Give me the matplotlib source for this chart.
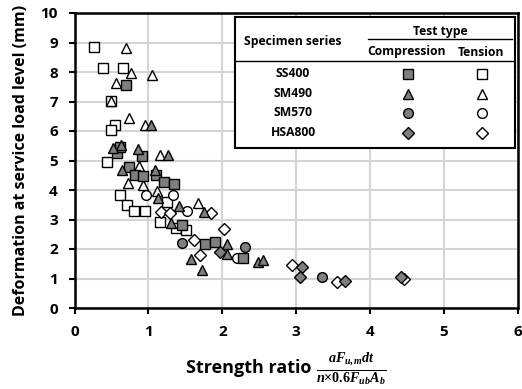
import matplotlib
matplotlib.use("Agg")
import matplotlib.pyplot as plt

plt.rcParams["font.family"] = ["Open Sans", "DejaVu Sans"]
plt.rcParams["font.weight"] = "bold"
plt.rcParams["mathtext.fontset"] = "custom"
plt.rcParams["mathtext.it"] = "Liberation Serif:italic:bold"
plt.rcParams["mathtext.rm"] = "Liberation Serif:bold"

# SS400
ss400_c_x = [0.70, 0.58, 0.61, 0.91, 0.74, 0.82, 0.93, 1.10, 1.21, 1.34, 1.45, 1.76, 1.90, 2.28]
ss400_c_y = [7.55, 5.24, 5.47, 5.16, 4.77, 4.51, 4.49, 4.52, 4.27, 4.21, 2.83, 2.16, 2.25, 1.68]
ss400_t_x = [0.27, 0.39, 0.66, 0.50, 0.55, 0.49, 0.44, 0.61, 0.71, 0.80, 0.96, 1.25, 1.16, 1.37, 1.51]
ss400_t_y = [8.86, 8.15, 8.15, 7.03, 6.20, 6.05, 4.96, 3.83, 3.49, 3.29, 3.30, 3.60, 2.90, 2.70, 2.63]
# SM490
sm490_c_x = [1.04, 0.52, 0.63, 0.86, 1.26, 0.64, 1.09, 1.13, 1.42, 1.75, 1.30, 2.06, 2.06, 1.57, 1.72, 2.48, 2.55]
sm490_c_y = [6.20, 5.42, 5.52, 5.38, 5.19, 4.68, 4.68, 3.73, 3.46, 3.25, 2.87, 2.17, 1.83, 1.65, 1.29, 1.57, 1.63]
sm490_t_x = [0.70, 0.76, 1.05, 0.56, 0.50, 0.74, 0.95, 1.16, 0.87, 0.73, 0.93, 1.11, 1.67]
sm490_t_y = [8.81, 7.98, 7.90, 7.62, 7.03, 6.43, 6.20, 5.19, 4.82, 4.24, 4.17, 3.98, 3.55]
# SM570
sm570_c_x = [1.46, 2.31, 3.35]
sm570_c_y = [2.19, 2.08, 1.06]
sm570_t_x = [0.97, 1.33, 1.52, 2.20]
sm570_t_y = [3.83, 3.82, 3.29, 1.68]
# HSA800
hsa800_c_x = [1.97, 3.08, 3.05, 3.66, 4.42]
hsa800_c_y = [1.91, 1.38, 1.04, 0.93, 1.06]
hsa800_t_x = [1.17, 1.29, 1.84, 2.02, 1.61, 1.70, 2.94, 3.55, 4.46]
hsa800_t_y = [3.27, 3.23, 3.21, 2.68, 2.31, 1.78, 1.46, 0.89, 0.97]

series_names = ["SS400", "SM490", "SM570", "HSA800"]
markers = ["s", "^", "o", "D"]
sizes = [7, 7.5, 7, 6]
gray = "#7f7f7f"

comp = [(ss400_c_x, ss400_c_y), (sm490_c_x, sm490_c_y), (sm570_c_x, sm570_c_y), (hsa800_c_x, hsa800_c_y)]
tens = [(ss400_t_x, ss400_t_y), (sm490_t_x, sm490_t_y), (sm570_t_x, sm570_t_y), (hsa800_t_x, hsa800_t_y)]

fig = plt.figure(figsize=(5.22, 3.89), dpi=100)
ax = fig.add_axes([74.5 / 522, 81 / 389, 443.5 / 522, 295 / 389])

for (x, y), m, s in zip(tens, markers, sizes):
    ax.plot(x, y, m, ms=s, mfc="white", mec="black", mew=1.0, ls="none", zorder=3)
for (x, y), m, s in zip(comp, markers, sizes):
    ax.plot(x, y, m, ms=s, mfc=gray, mec="black", mew=1.0, ls="none", zorder=4)

ax.set_xlim(0, 6)
ax.set_ylim(0, 10)
ax.set_xticks(range(0, 7))
ax.set_yticks(range(0, 11))
ax.grid(True, color="#d4d4d4", lw=1.5, zorder=0)
ax.set_axisbelow(True)
for sp in ax.spines.values():
    sp.set_linewidth(1.8)
ax.tick_params(direction="out", length=4, width=1.5, labelsize=11, pad=8)
for lab in ax.get_xticklabels() + ax.get_yticklabels():
    lab.set_fontweight("bold")

ax.set_ylabel("Deformation at service load level (mm)", fontsize=11.5, fontweight="bold", labelpad=8)

# x label: plain words plus a larger fraction
fig.text(186 / 522, 21 / 389, "Strength ratio", ha="left", va="center", fontsize=13, fontweight="bold")
fig.text(316 / 522, 20 / 389, r"$\frac{aF_{u,m}dt}{n{\times}0.6F_{ub}A_b}$", ha="left", va="center",
         fontsize=14.5)

# legend table drawn in pixel coordinates
L, R, T, B = 235, 515, 17, 148
lax = fig.add_axes([L / 522, (389 - B) / 389, (R - L) / 522, (B - T) / 389])
lax.set_xlim(L, R)
lax.set_ylim(B, T)
lax.set_xticks([])
lax.set_yticks([])
lax.set_facecolor("white")
for sp in lax.spines.values():
    sp.set_linewidth(1.5)
    sp.set_color("black")
lax.set_zorder(5)

fs = 8.7
lax.text(293, 41.5, "Specimen series", ha="center", va="center", fontsize=fs, fontweight="bold")
lax.text(440, 31.5, "Test type", ha="center", va="center", fontsize=fs, fontweight="bold")
lax.plot([368, 512], [39, 39], color="black", lw=1)
lax.text(407, 52, "Compression", ha="center", va="center", fontsize=fs, fontweight="bold")
lax.text(481, 52, "Tension", ha="center", va="center", fontsize=fs, fontweight="bold")
lax.plot([L, R], [60.5, 60.5], color="black", lw=1)

row_y = [73.5, 93.5, 113, 132.5]
for name, m, s, yy in zip(series_names, markers, sizes, row_y):
    lax.text(293, yy, name, ha="center", va="center", fontsize=fs, fontweight="bold")
    lax.plot([408], [yy], m, ms=s, mfc=gray, mec="black", mew=1.0)
    lax.plot([482], [yy], m, ms=s, mfc="white", mec="black", mew=1.0)

fig.savefig("out.png", dpi=100)
